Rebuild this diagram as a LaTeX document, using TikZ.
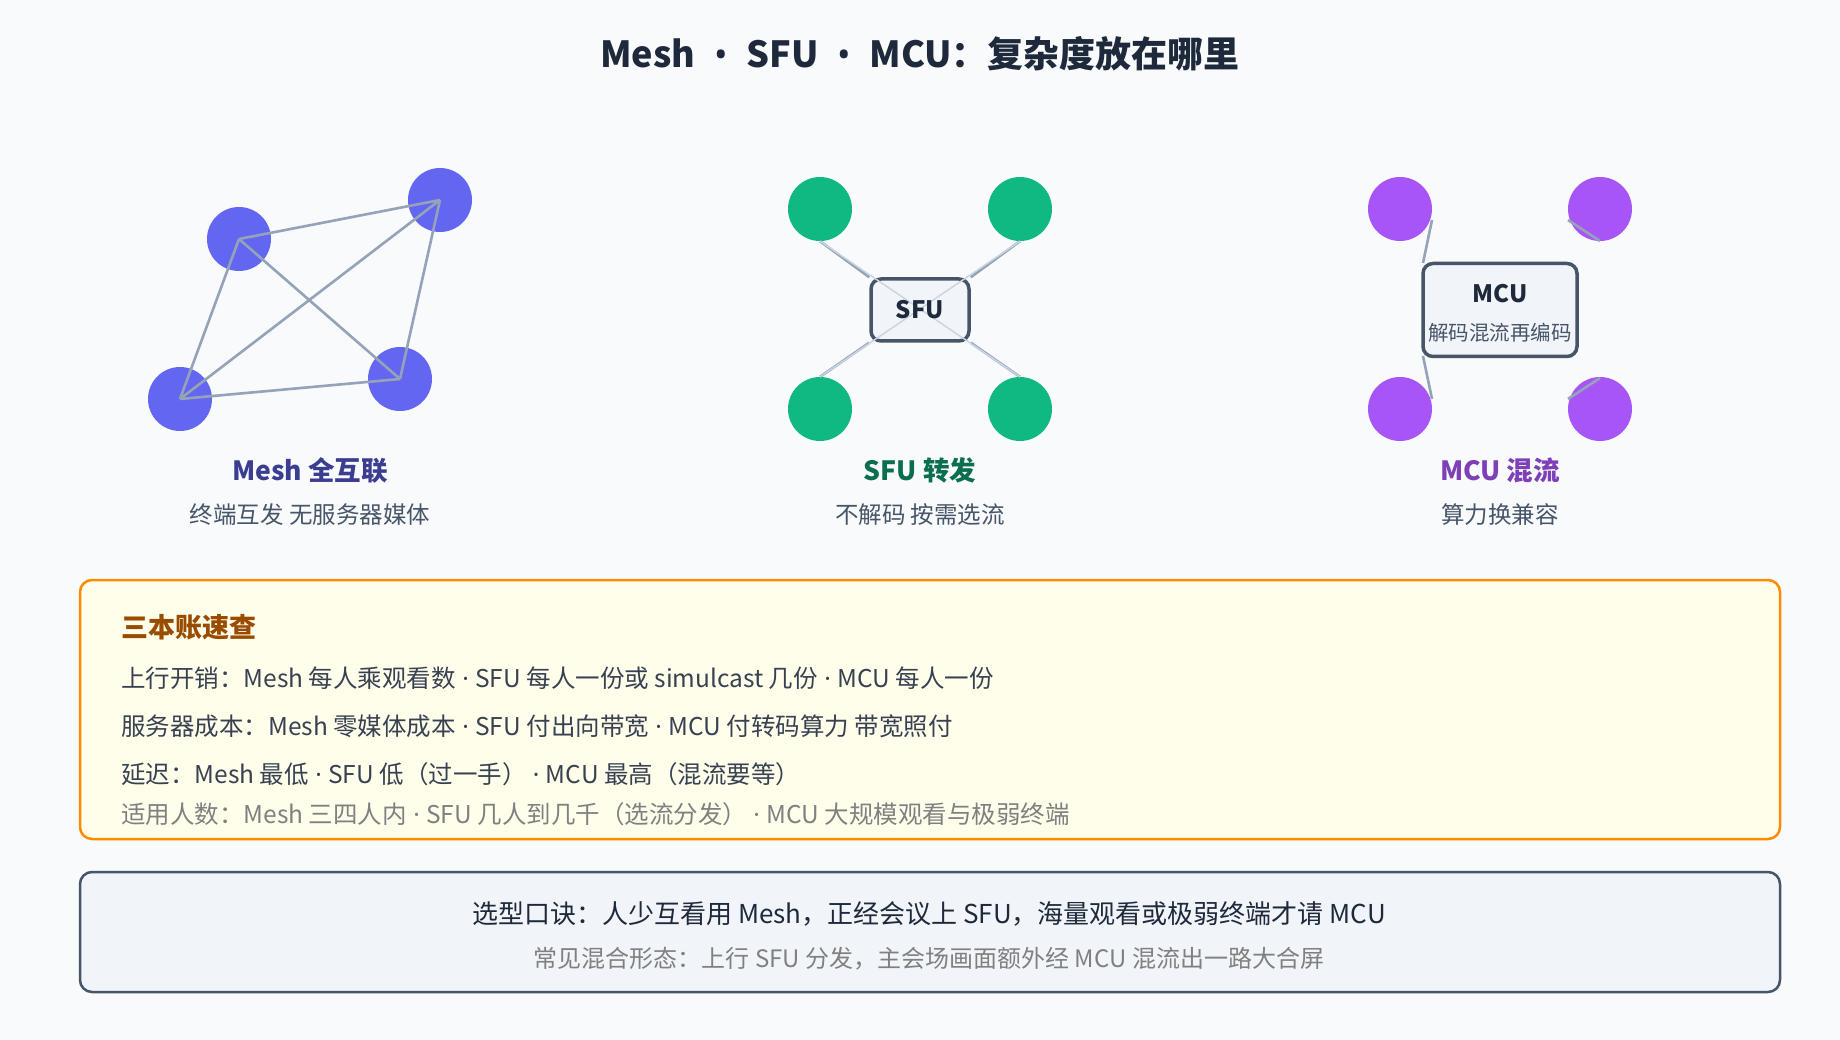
\documentclass[tikz,border=0pt]{standalone}
\usepackage{fontspec}
\setmainfont{Noto Sans CJK SC}
\newfontfamily\lat{Noto Sans}
\newcommand{\md}{{\lat\ ·\ }}
\begin{document}
\begin{tikzpicture}[x=1pt,y=-1pt,
  every node/.style={inner sep=0pt},
  edge/.style={draw=c94,line width=2.6pt},
  thin/.style={draw=cbd,line width=1.5pt},
  mesh/.style={circle,fill=cmesh,minimum size=64pt},
  sfun/.style={circle,fill=csfu,minimum size=64pt},
  mcun/.style={circle,fill=cmcu,minimum size=64pt},
  hub/.style={draw=c47,line width=3.5pt,fill=cbox,rounded corners=10pt},
  lab/.style={font=\bfseries\fontsize{26.5}{30}\selectfont},
  sub/.style={font=\fontsize{23.5}{27}\selectfont,text=c47},
  row/.style={anchor=west,font=\fontsize{24.5}{28}\selectfont,text=c37}]
\definecolor{bg}{HTML}{F8FAFC}
\definecolor{c94}{HTML}{94A3B8}
\definecolor{cbd}{HTML}{CBD5E1}
\definecolor{cmesh}{HTML}{6366F1}
\definecolor{csfu}{HTML}{10B981}
\definecolor{cmcu}{HTML}{A855F7}
\definecolor{c47}{HTML}{475569}
\definecolor{cbox}{HTML}{F1F5F9}
\definecolor{c37}{HTML}{374151}
\definecolor{c1e}{HTML}{1E293B}
\fill[bg] (0,0) rectangle (1840,1040);
\useasboundingbox (0,0) rectangle (1840,1040);
\node[font=\bfseries\fontsize{36}{42}\selectfont,text=c1e] (title) at (920,54) {Mesh{\lat\ \ •\ \ }SFU{\lat\ \ •\ \ }MCU：复杂度放在哪里};
% Mesh
\coordinate (ma) at (239,239); \coordinate (mb) at (440,200);
\coordinate (mc) at (180,399); \coordinate (md) at (400,379);
\node[mesh] (na) at (ma) {}; \node[mesh] (nb) at (mb) {};
\node[mesh] (nc) at (mc) {}; \node[mesh] (nd) at (md) {};
\draw[edge] (ma)--(mb) (ma)--(md) (ma)--(mc) (mb)--(mc) (mb)--(md) (mc)--(md);
\node[lab,text=cmesh!60!black] (ml) at (310,470) {Mesh 全互联};
\node[sub] (ms) at (310,515) {终端互发 无服务器媒体};
% SFU
\node[sfun] (s1) at (820,209) {}; \node[sfun] (s2) at (1020,209) {};
\node[sfun] (s3) at (820,409) {}; \node[sfun] (s4) at (1020,409) {};
\node[hub,minimum width=98pt,minimum height=62pt] (sfu) at (920,310) {};
\draw[edge] (s1.south)--(sfu.north west) (s2.south)--(sfu.north east)
  (s3.north)--(sfu.south west) (s4.north)--(sfu.south east);
\draw[thin] (s1.south)--(s4.north) (s2.south)--(s3.north);
\node[font=\bfseries\fontsize{24}{28}\selectfont,text=c1e] (sfut) at (920,310) {SFU};
\node[lab,text=csfu!60!black] (sl) at (920,470) {SFU 转发};
\node[sub] (ss) at (920,515) {不解码 按需选流};
% MCU
\node[mcun] (u1) at (1400,209) {}; \node[mcun] (u2) at (1600,209) {};
\node[mcun] (u3) at (1400,409) {}; \node[mcun] (u4) at (1600,409) {};
\node[hub,minimum width=154pt,minimum height=93pt] (mcu) at (1500,310) {};
\node[font=\bfseries\fontsize{24}{28}\selectfont,text=c1e] (mcut) at (1500,294) {MCU};
\node[font=\fontsize{20.5}{24}\selectfont,text=c47] (mcus) at (1500,333) {解码混流再编码};
\coordinate (k1) at (1432,220); \coordinate (k2) at (1423,263);
\coordinate (k3) at (1423,356); \coordinate (k4) at (1432,399);
\coordinate (k5) at (1568,220); \coordinate (k6) at (1600,241);
\coordinate (k7) at (1600,378); \coordinate (k8) at (1568,399);
\draw[edge] (k1)--(k2) (k3)--(k4) (k5)--(k6) (k7)--(k8);
\node[lab,text=cmcu!75!black] (ul) at (1500,470) {MCU 混流};
\node[sub] (us) at (1500,515) {算力换兼容};
% ledger box
\node[draw=orange!90!yellow,line width=2.5pt,fill=yellow!8,rounded corners=12pt,minimum width=1700pt,minimum height=259pt] (led) at (930,709.5) {};
\node[anchor=west,font=\bfseries\fontsize{27}{30}\selectfont,text=orange!60!black] (lt) at (121,627) {三本账速查};
\node[row] (r1) at (121,678) {上行开销：Mesh 每人乘观看数\md SFU 每人一份或 simulcast 几份\md MCU 每人一份};
\node[row] (r2) at (121,726) {服务器成本：Mesh 零媒体成本\md SFU 付出向带宽\md MCU 付转码算力 带宽照付};
\node[row] (r3) at (121,774) {延迟：Mesh 最低\md SFU 低（过一手）\md MCU 最高（混流要等）};
\node[row,text=gray] (r4) at (121,814) {适用人数：Mesh 三四人内\md SFU 几人到几千（选流分发）\md MCU 大规模观看与极弱终端};
% tip box
\node[draw=c47,line width=2.5pt,fill=cbox,rounded corners=12pt,minimum width=1700pt,minimum height=120pt] (tip) at (930,932) {};
\node[font=\fontsize{26}{30}\selectfont,text=c1e] (t1) at (929,914) {选型口诀：人少互看用 Mesh，正经会议上 SFU，海量观看或极弱终端才请 MCU};
\node[font=\fontsize{24}{28}\selectfont,text=gray] (t2) at (929,959) {常见混合形态：上行 SFU 分发，主会场画面额外经 MCU 混流出一路大合屏};
\end{tikzpicture}
\end{document}
